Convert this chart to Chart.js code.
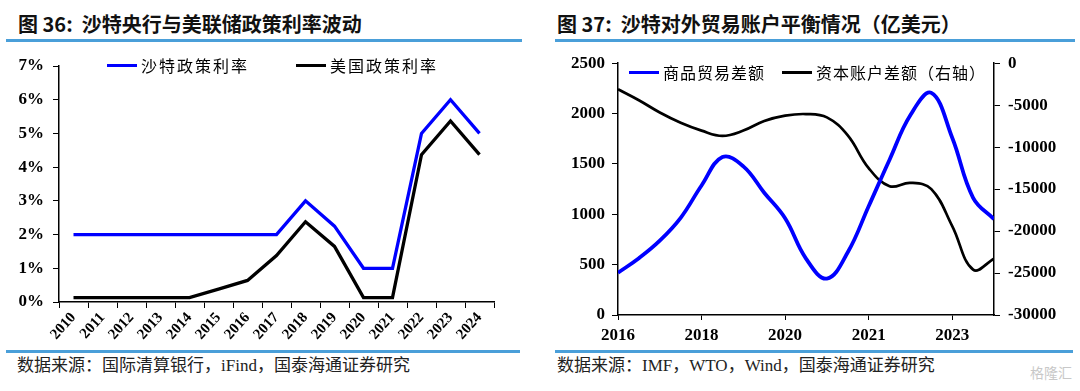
<!DOCTYPE html>
<html>
<head>
<meta charset="utf-8">
<script src="https://cdn.jsdelivr.net/npm/chart.js@4.4.1/dist/chart.umd.min.js"></script>
<style>
body { margin: 0; width: 1080px; height: 391px; background: #fff; position: relative; overflow: hidden; font-family: "Noto Sans CJK SC", sans-serif; }
.title { position: absolute; top: 12px; font-size: 20px; font-weight: bold; white-space: pre; color: #111; line-height: 24px; }
.rule { position: absolute; height: 3px; background: #4a9fd9; }
.src { position: absolute; top: 356px; font-family: "Liberation Serif", "Noto Sans CJK SC", serif; font-size: 17px; color: #222; white-space: pre; line-height: 20px; }
.box { position: absolute; top: 45px; width: 540px; height: 300px; }
.item { position: absolute; height: 22px; font-size: 16px; line-height: 22px; white-space: nowrap; display: flex; align-items: center; color: #000; }
.swatch { display: inline-block; width: 30px; height: 3px; margin-right: 4px; }
.mark { position: absolute; left: 1030px; top: 362px; font-size: 14px; color: #c8c8c8; }
</style>
</head>
<body>

<div class="title" style="left:18px">图 36:  沙特央行与美联储政策利率波动</div>
<div class="rule" style="left:6px; top:39px; width:516px"></div>
<div class="title" style="left:557px">图 37:  沙特对外贸易账户平衡情况（亿美元）</div>
<div class="rule" style="left:555px; top:39px; width:520px"></div>

<div class="box" style="left:0px"><canvas id="chart1"></canvas></div>
<div class="box" style="left:540px"><canvas id="chart2"></canvas></div>

<div class="item" style="left:107px; top:54px; letter-spacing:2px"><span class="swatch" style="background:#0000ff"></span>沙特政策利率</div>
<div class="item" style="left:296px; top:54px; letter-spacing:2px"><span class="swatch" style="background:#000"></span>美国政策利率</div>
<div class="item" style="left:629px; top:61px; letter-spacing:1px"><span class="swatch" style="background:#0000ff"></span>商品贸易差额</div>
<div class="item" style="left:782px; top:61px; letter-spacing:1px"><span class="swatch" style="background:#000"></span>资本账户差额（右轴）</div>

<div class="rule" style="left:6px; top:350px; width:514px"></div>
<div class="rule" style="left:555px; top:350px; width:518px"></div>
<div class="src" style="left:17px">数据来源：国际清算银行，iFind，国泰海通证券研究</div>
<div class="src" style="left:557px">数据来源：IMF，WTO，Wind，国泰海通证券研究</div>
<div class="mark">格隆汇</div>

<script>
// left chart: policy rates, %
var years = ['2010', '2011', '2012', '2013', '2014', '2015', '2016', '2017', '2018', '2019', '2020', '2021', '2022', '2023', '2024'];
var saudiRate = [2, 2, 2, 2, 2, 2, 2, 2, 3, 2.25, 1, 1, 5, 6, 5];
var usRate = [0.13, 0.13, 0.13, 0.13, 0.13, 0.38, 0.64, 1.38, 2.38, 1.65, 0.13, 0.13, 4.37, 5.37, 4.37];

// right chart: trade balance (left axis) and capital account (right axis), 100m USD
var tradeYears = ['2016', '2018', '2020', '2021', '2023'];
var tradeBalance = [420, 564, 738, 965, 1286, 1568, 1476, 1214, 960, 560, 361, 623, 1080, 1542, 1985, 2205, 1760, 1164, 952];
var capitalAccount = [-3100, -4410, -5870, -7090, -8030, -8660, -8030, -6890, -6250, -6060, -6460, -8600, -12500, -14650, -14250, -15000, -19400, -24600, -23300];

var tickFont = { family: 'Liberation Serif', size: 17, weight: 'bold' };

Chart.defaults.animation = false;

function makeRateChart() {
    var ctx1 = document.getElementById('chart1').getContext('2d');
    var chart1 = new Chart(ctx1, {
        type: 'line',
        data: {
            labels: years,
            datasets: [{
                label: '沙特政策利率',
                data: saudiRate,
                borderColor: '#0000ff',
                borderWidth: 3.3,
                pointRadius: 0,
                tension: 0
            },
            {
                label: '美国政策利率',
                data: usRate,
                borderColor: '#000000',
                borderWidth: 3.3,
                pointRadius: 0,
                tension: 0
            }]
        },
        options: {
            responsive: true,
            maintainAspectRatio: false,
            layout: { padding: { top: 21, right: 46, left: 0, bottom: 0 } },
            plugins: { legend: { display: false }, tooltip: { enabled: false } },
            scales: {
                x: {
                    offset: true,
                    grid: { offset: true, drawOnChartArea: false, color: '#000', tickLength: 6 },
                    border: { color: '#000', width: 1.5 },
                    ticks: { autoSkip: false, maxRotation: 48, minRotation: 48, color: '#000', padding: 1,
                        font: { family: 'Liberation Serif', size: 15, weight: 'bold' } },
                    afterFit: function(s) { s.height = 43; }
                },
                y: {
                    min: 0, max: 7,
                    grid: { drawOnChartArea: false, color: '#000', tickLength: 6 },
                    border: { color: '#000', width: 1.5 },
                    ticks: { stepSize: 1, color: '#000', padding: 9, font: tickFont,
                        callback: function(v) { return v + '%'; } },
                    afterFit: function(s) { s.width = 59; }
                }
            }
        }
    });
}

function makeTradeChart() {
    var tradePts = [];
    var capPts = [];
    for (var i = 0; i < tradeBalance.length; i++) {
        tradePts.push({ x: i, y: tradeBalance[i] });
        capPts.push({ x: i, y: capitalAccount[i] });
    }
    var ctx2 = document.getElementById('chart2').getContext('2d');
    var chart2 = new Chart(ctx2, {
        type: 'line',
        data: {
            datasets: [{
                label: '商品贸易差额',
                data: tradePts,
                yAxisID: 'y',
                borderColor: '#0000ff',
                borderWidth: 3.8,
                pointRadius: 0,
                tension: 0.4
            },
            {
                label: '资本账户差额（右轴）',
                data: capPts,
                yAxisID: 'y1',
                borderColor: '#000000',
                borderWidth: 2.7,
                pointRadius: 0,
                tension: 0.4
            }]
        },
        options: {
            responsive: true,
            maintainAspectRatio: false,
            layout: { padding: { top: 16, right: 0, left: 0, bottom: 0 } },
            plugins: { legend: { display: false }, tooltip: { enabled: false } },
            scales: {
                x: {
                    type: 'linear',
                    min: 0, max: 18,
                    grid: { drawOnChartArea: false, color: '#000', tickLength: 5 },
                    border: { color: '#000', width: 1.5 },
                    ticks: { stepSize: 4, includeBounds: false, color: '#000', padding: 5, font: tickFont,
                        callback: function(v) { return tradeYears[v / 4]; } },
                    afterFit: function(s) { s.height = 30; }
                },
                y: {
                    position: 'left',
                    min: 0, max: 2500,
                    grid: { drawOnChartArea: false, color: '#000', tickLength: 6 },
                    border: { color: '#000', width: 1.5 },
                    ticks: { stepSize: 500, color: '#000', padding: 7, font: tickFont,
                        callback: function(v) { return String(v); } },
                    afterFit: function(s) { s.width = 78; }
                },
                y1: {
                    position: 'right',
                    min: -30000, max: 0,
                    grid: { drawOnChartArea: false, color: '#000', tickLength: 6 },
                    border: { color: '#000', width: 1.5 },
                    ticks: { stepSize: 5000, color: '#000', padding: 8, font: tickFont,
                        callback: function(v) { return String(v); } },
                    afterFit: function(s) { s.width = 86; }
                }
            }
        }
    });
}

window.onload = function() {
    makeRateChart();
    makeTradeChart();
};
</script>
</body>
</html>
